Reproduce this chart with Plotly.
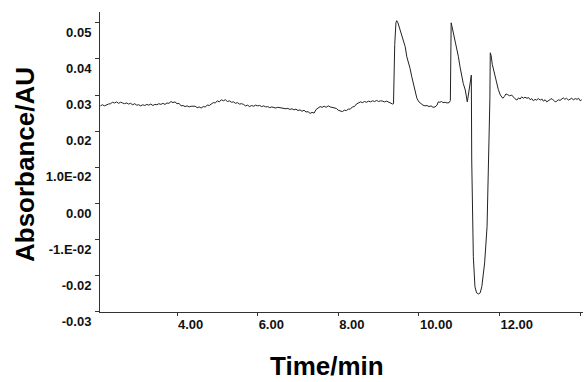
import plotly.graph_objects as go

# Chromatogram trace
time_min = [
    2.10, 2.15, 2.20, 2.25, 2.30, 2.35, 2.40, 2.45, 2.50, 2.55, 2.60, 2.65, 2.70, 2.75, 2.80, 2.85, 2.90, 2.95,
    3.00, 3.05, 3.10, 3.15, 3.20, 3.25, 3.30, 3.35, 3.40, 3.45, 3.50, 3.55, 3.60, 3.65, 3.70, 3.75, 3.80, 3.85, 3.90, 3.95,
    4.00, 4.05, 4.10, 4.15, 4.20, 4.25, 4.30, 4.35, 4.40, 4.45, 4.50, 4.55, 4.60, 4.65, 4.70, 4.75, 4.80, 4.85, 4.90, 4.95,
    5.00, 5.05, 5.10, 5.15, 5.20, 5.25, 5.30, 5.35, 5.40, 5.45, 5.50, 5.55, 5.60, 5.65, 5.70, 5.75, 5.80, 5.85, 5.90, 5.95,
    6.00, 6.05, 6.10, 6.15, 6.20, 6.25, 6.30, 6.35, 6.40, 6.45, 6.50, 6.55, 6.60, 6.65, 6.70, 6.75, 6.80, 6.85, 6.90, 6.95,
    7.00, 7.05, 7.10, 7.15, 7.20, 7.25, 7.30, 7.35, 7.40, 7.45, 7.50, 7.55, 7.60, 7.65, 7.70, 7.75, 7.80, 7.85, 7.90, 7.95,
    8.00, 8.05, 8.10, 8.15, 8.20, 8.25, 8.30, 8.35, 8.40, 8.45, 8.50, 8.55, 8.60, 8.65, 8.70, 8.75, 8.80, 8.85, 8.90, 8.95,
    9.00, 9.05, 9.10, 9.15, 9.20, 9.25, 9.30, 9.35, 9.37,
    9.40, 9.43, 9.45, 9.48, 9.51, 9.55, 9.58, 9.62, 9.66, 9.70, 9.74, 9.78, 9.82, 9.86, 9.90, 9.95,
    10.00, 10.05, 10.10, 10.15, 10.20, 10.25, 10.30, 10.35, 10.40, 10.45, 10.48, 10.52, 10.56, 10.60, 10.65, 10.70, 10.75, 10.78,
    10.80, 10.82, 10.84, 10.87, 10.90, 10.94, 10.98, 11.02, 11.06, 11.10, 11.15, 11.18, 11.20, 11.22, 11.25, 11.28, 11.30,
    11.31, 11.33, 11.35, 11.39, 11.43, 11.48, 11.52, 11.56, 11.63, 11.69, 11.73, 11.76,
    11.77, 11.79, 11.82, 11.85, 11.89, 11.93, 11.97, 12.02, 12.05, 12.08,
    12.12, 12.16, 12.20, 12.25, 12.30, 12.34, 12.38, 12.43, 12.47, 12.51, 12.55, 12.59, 12.63, 12.68, 12.72, 12.76,
    12.80, 12.84, 12.88, 12.92, 12.96, 13.01, 13.05, 13.09, 13.13, 13.17, 13.21, 13.26, 13.30, 13.34, 13.38, 13.42,
    13.46, 13.50, 13.54, 13.58, 13.62, 13.66, 13.71, 13.75, 13.79, 13.83, 13.88, 13.92, 13.96, 14.00, 14.04,
]
absorbance_au = [
    0.0270, 0.0273, 0.0270, 0.0273, 0.0275, 0.0276, 0.0280, 0.0278, 0.0281, 0.0277, 0.0280, 0.0278, 0.0276, 0.0278, 0.0275, 0.0277, 0.0273, 0.0276,
    0.0272, 0.0273, 0.0270, 0.0273, 0.0271, 0.0274, 0.0272, 0.0275, 0.0271, 0.0274, 0.0273, 0.0276, 0.0274, 0.0277, 0.0274, 0.0278, 0.0277, 0.0282, 0.0279, 0.0281,
    0.0276, 0.0277, 0.0270, 0.0271, 0.0268, 0.0270, 0.0267, 0.0269, 0.0268, 0.0269, 0.0265, 0.0267, 0.0264, 0.0268, 0.0267, 0.0272, 0.0271, 0.0276, 0.0279, 0.0278,
    0.0284, 0.0281, 0.0287, 0.0284, 0.0287, 0.0282, 0.0284, 0.0280, 0.0281, 0.0277, 0.0279, 0.0275, 0.0276, 0.0274, 0.0270, 0.0272, 0.0268, 0.0271, 0.0269, 0.0272,
    0.0270, 0.0271, 0.0268, 0.0270, 0.0267, 0.0268, 0.0265, 0.0267, 0.0266, 0.0264, 0.0266, 0.0265, 0.0263, 0.0264, 0.0262, 0.0263, 0.0260, 0.0262, 0.0259, 0.0261,
    0.0257, 0.0259, 0.0255, 0.0258, 0.0253, 0.0254, 0.0249, 0.0252, 0.0250, 0.0260, 0.0263, 0.0268, 0.0266, 0.0269, 0.0266, 0.0270, 0.0267, 0.0265, 0.0263, 0.0263,
    0.0258, 0.0256, 0.0254, 0.0258, 0.0257, 0.0261, 0.0261, 0.0267, 0.0268, 0.0275, 0.0277, 0.0281, 0.0279, 0.0282, 0.0280, 0.0283, 0.0281, 0.0284, 0.0282, 0.0285,
    0.0282, 0.0284, 0.0283, 0.0281, 0.0283, 0.0280, 0.0276, 0.0275, 0.0276,
    0.0440, 0.0500, 0.0506, 0.0500, 0.0489, 0.0478, 0.0466, 0.0450, 0.0434, 0.0406, 0.0392, 0.0374, 0.0352, 0.0332, 0.0312, 0.0291,
    0.0281, 0.0275, 0.0272, 0.0270, 0.0271, 0.0268, 0.0270, 0.0266, 0.0267, 0.0272, 0.0281, 0.0280, 0.0282, 0.0279, 0.0280, 0.0278, 0.0279, 0.0285,
    0.0500, 0.0490, 0.0480, 0.0462, 0.0443, 0.0425, 0.0406, 0.0378, 0.0350, 0.0332, 0.0314, 0.0295, 0.0281, 0.0295, 0.0323, 0.0345, 0.0355,
    0.0120, -0.0055, -0.0148, -0.0231, -0.0248, -0.0251, -0.0248, -0.0231, -0.0165, -0.0065, 0.0101, 0.0286,
    0.0417, 0.0410, 0.0385, 0.0369, 0.0350, 0.0332, 0.0315, 0.0300, 0.0294, 0.0291,
    0.0296, 0.0303, 0.0301, 0.0298, 0.0300, 0.0294, 0.0290, 0.0286, 0.0292, 0.0289, 0.0295, 0.0291, 0.0294, 0.0291, 0.0293, 0.0287,
    0.0290, 0.0284, 0.0288, 0.0286, 0.0290, 0.0286, 0.0289, 0.0283, 0.0287, 0.0281, 0.0285, 0.0288, 0.0290, 0.0284, 0.0281, 0.0283,
    0.0287, 0.0285, 0.0290, 0.0292, 0.0288, 0.0291, 0.0286, 0.0289, 0.0291, 0.0287, 0.0290, 0.0288, 0.0291, 0.0284, 0.0287,
]

x_tick_vals = [4, 6, 8, 10, 12, 14]
x_tick_text = ["4.00", "6.00", "8.00", "10.00", "12.00", ""]
y_tick_vals = [0.05, 0.04, 0.03, 0.02, 0.01, 0.0, -0.01, -0.02, -0.03]
y_tick_text = ["0.05", "0.04", "0.03", "0.02", "1.0E-02", "0.00", "-1.E-02", "-0.02", "-0.03"]

x_title = "Time/min"
y_title = "Absorbance/AU"

tick_font = dict(family="Liberation Sans, Arial, sans-serif", size=13, color="#111111", weight="bold")
title_font = dict(family="Liberation Sans, Arial, sans-serif", size=26, color="#000000", weight="bold")

fig = go.Figure()
fig.add_trace(go.Scatter(
    x=time_min, y=absorbance_au, mode="lines",
    line=dict(color="#222222", width=1), showlegend=False, hoverinfo="skip",
))

fig.update_layout(
    width=584, height=382,
    margin=dict(l=100, r=1, t=12, b=70, autoexpand=False),
    paper_bgcolor="white", plot_bgcolor="white",
    xaxis=dict(
        range=[2.09, 14.07], showgrid=False, zeroline=False, automargin=False,
        showline=True, linecolor="#333333", linewidth=1,
        ticks="outside", ticklen=3, tickcolor="#333333",
        tickmode="array", tickvals=x_tick_vals, ticktext=x_tick_text,
        tickfont=tick_font, ticklabelposition="outside right",
    ),
    yaxis=dict(
        range=[-0.0301, 0.0530], showgrid=False, zeroline=False, automargin=False,
        showline=True, linecolor="#333333", linewidth=1,
        ticks="outside", ticklen=4, tickcolor="#333333",
        tickmode="array", tickvals=y_tick_vals, ticktext=y_tick_text,
        tickfont=tick_font, ticklabelposition="outside bottom", ticklabelstandoff=5,
    ),
    annotations=[
        dict(text=y_title, xref="paper", yref="paper", x=-0.1553, y=0.4933,
             xanchor="center", yanchor="middle", textangle=-90, showarrow=False, font=title_font),
        dict(text=x_title, xref="paper", yref="paper", x=0.470, y=-0.18,
             xanchor="center", yanchor="middle", showarrow=False, font=title_font),
    ],
)

fig.write_html(
    "out.html",
    config={"displayModeBar": False, "staticPlot": True},
    post_script="document.body.style.margin='0px';document.body.style.padding='0px';",
)
